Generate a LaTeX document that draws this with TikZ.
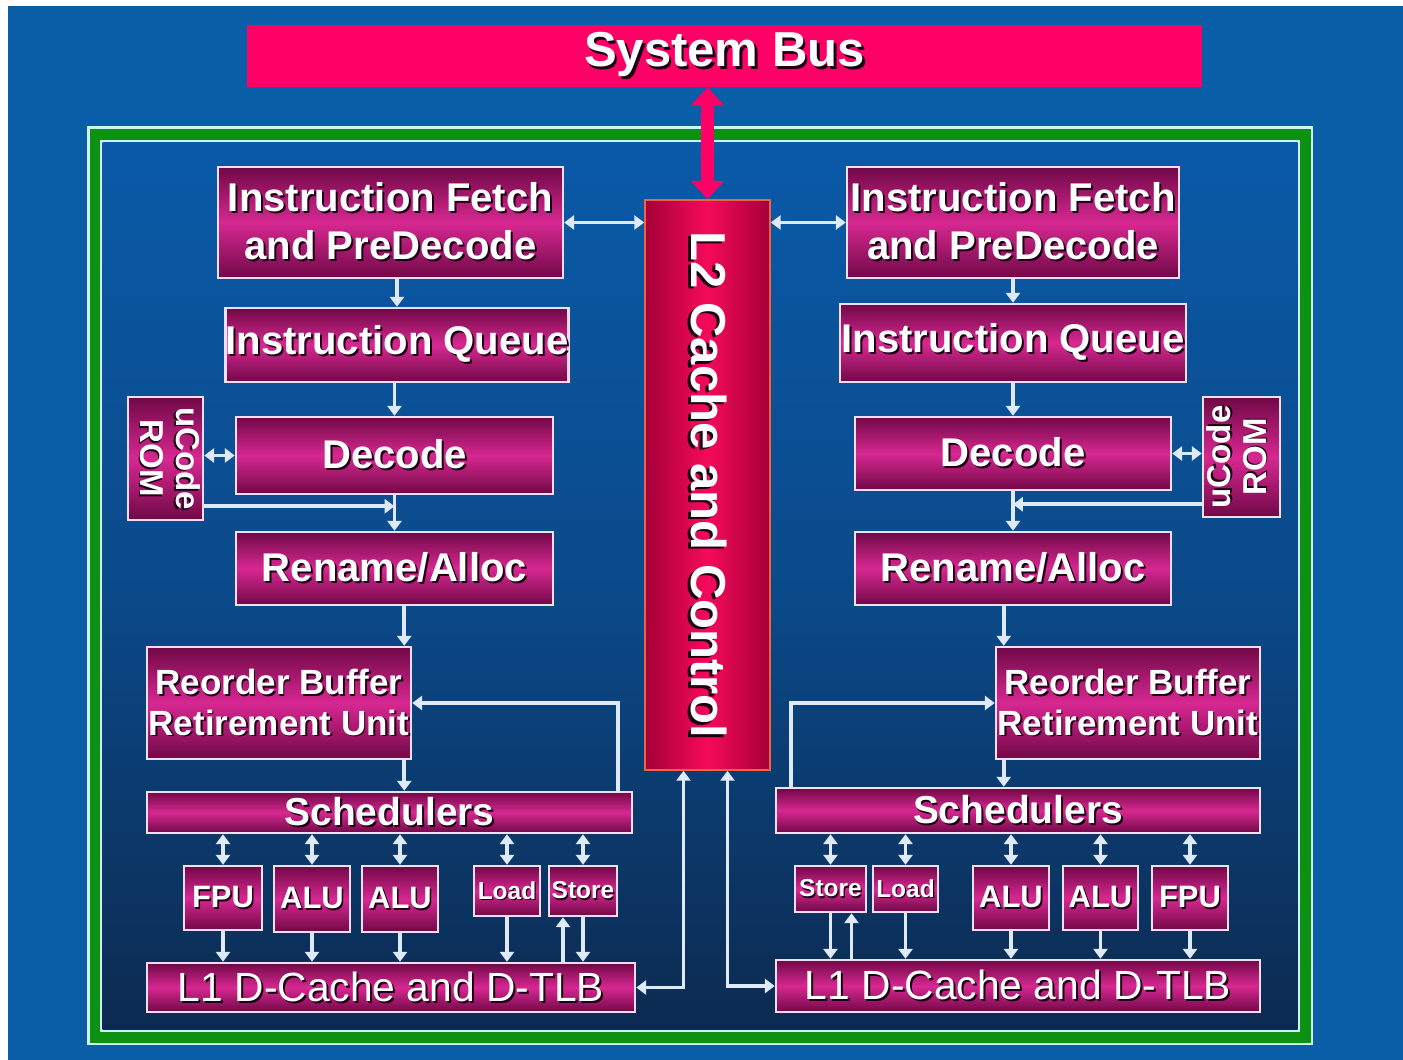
\documentclass[tikz,border=0pt]{standalone}
\usepackage{fontspec}
\setmainfont{Liberation Sans}
\usetikzlibrary{arrows.meta,calc}

\definecolor{bgblue}{RGB}{10,94,168}
\definecolor{intop}{RGB}{10,90,168}
\definecolor{inmid}{RGB}{11,74,138}
\definecolor{inbot}{RGB}{12,42,80}
\definecolor{framecyan}{RGB}{205,245,245}
\definecolor{framegreen}{RGB}{12,145,18}
\definecolor{busred}{RGB}{255,0,102}
\definecolor{mgdark}{RGB}{112,8,70}
\definecolor{mgbright}{RGB}{215,40,145}
\definecolor{ltwodark}{RGB}{165,0,55}
\definecolor{ltwobright}{RGB}{245,10,90}
\definecolor{ltwoline}{RGB}{235,100,70}
\definecolor{boxline}{RGB}{242,222,242}
\definecolor{arrowc}{RGB}{222,234,250}
\definecolor{shadowc}{RGB}{30,0,20}

% white text with a dark drop shadow
\newcommand\shd[1]{\rlap{\kern0.05em\raisebox{-0.05em}{\color{shadowc}#1}}#1}

\tikzset{
  sz/.style 2 args={minimum width=#1*0.025cm, minimum height=#2*0.025cm},
  unit node/.style={draw=boxline, line width=1.8pt, inner sep=0pt, text=white,
    top color=mgdark, bottom color=mgdark, middle color=mgbright,
    font=\bfseries\fontsize{28.5}{34}\selectfont, align=center},
  rob node/.style={unit node, font=\bfseries\fontsize{24.9}{29}\selectfont},
  sched node/.style={unit node, font=\bfseries\fontsize{27.7}{32}\selectfont},
  exec node/.style={unit node, font=\bfseries\fontsize{22}{26}\selectfont},
  mem node/.style={unit node, font=\bfseries\fontsize{17.4}{20}\selectfont},
  cache node/.style={unit node, font=\fontsize{29}{34}\selectfont},
  rom node/.style={unit node, font=\bfseries\fontsize{23.5}{25}\selectfont},
  ltwo node/.style={draw=ltwoline, line width=1.2pt, inner sep=0pt, text=white,
    left color=ltwodark, right color=ltwodark, middle color=ltwobright,
    font=\bfseries\fontsize{34.9}{40}\selectfont},
  bus node/.style={fill=busred, inner sep=0pt, text=white,
    font=\bfseries\fontsize{34.9}{40}\selectfont},
  link/.style={color=arrowc, line width=2.8pt, -{Triangle[width=10pt,length=7pt]}},
  both/.style={link, {Triangle[width=10pt,length=7pt]}-{Triangle[width=10pt,length=7pt]}},
  busarrow/.style={color=busred, line width=9.5pt,
    {Triangle[width=23pt,length=13pt]}-{Triangle[width=23pt,length=13pt]}}
}

\begin{document}
\begin{tikzpicture}[x=0.025cm, y=-0.025cm]

  % page and frame
  \useasboundingbox (0,0) rectangle (1403,1060);
  \fill[white] (0,0) rectangle (1403,1060);
  \fill[bgblue] (8,6) rectangle (1403,1060);
  \fill[framecyan] (87,126) rectangle (1313,1045);
  \fill[framegreen] (89.5,128.5) rectangle (1310.5,1042.5);
  \fill[framecyan] (100,140) rectangle (1300,1032);
  \shade[top color=intop, bottom color=inbot, middle color=inmid]
    (102.5,142.5) rectangle (1297.5,1029.5);

  \node[bus node, sz={955}{62}] (bus) at (724.5,56) {\shd{System Bus}};
  \node[ltwo node, sz={125}{570}] (l2) at (707.5,485)
    {\rotatebox{-90}{\shd{L2 Cache and Control}}};

  % left core
  \node[unit node, sz={345}{111}] (IFL) at (390.5,222.5) {\shd{Instruction Fetch}\\\shd{and PreDecode}};
  \node[unit node, sz={342}{74}] (IQL) at (397,345) {\shd{Instruction Queue}};
  \node[unit node, sz={317}{77}] (DecL) at (394.5,455.5) {\shd{Decode}};
  \node[rom node, sz={75}{123}] (ROML) at (165.5,458.5)
    {\rotatebox{-90}{\begin{tabular}{@{}c@{}}\shd{uCode}\\\shd{ROM}\end{tabular}}};
  \node[unit node, sz={317}{73}] (RenL) at (394.5,568.5) {\shd{Rename/Alloc}};
  \node[rob node, sz={264}{112}] (ROBL) at (279,703) {\shd{Reorder Buffer}\\\shd{Retirement Unit}};
  \node[sched node, sz={485}{41}] (SchL) at (389.5,812.5) {\shd{Schedulers}};
  \node[exec node, sz={78}{64}] (FPUL) at (223,898) {\shd{FPU}};
  \node[exec node, sz={76}{66}] (ALUaL) at (312,899) {\shd{ALU}};
  \node[exec node, sz={76}{66}] (ALUbL) at (400,899) {\shd{ALU}};
  \node[mem node, sz={66}{50}] (LoadL) at (507,891) {\shd{Load}};
  \node[mem node, sz={68}{50}] (StoreL) at (583,891) {\shd{Store}};
  \node[cache node, sz={488}{49}] (L1L) at (391,987.5) {\shd{L1 D-Cache and D-TLB}};

  % right core
  \node[unit node, sz={332}{111}] (IFR) at (1013,222.5) {\shd{Instruction Fetch}\\\shd{and PreDecode}};
  \node[unit node, sz={346}{78}] (IQR) at (1013,343) {\shd{Instruction Queue}};
  \node[unit node, sz={316}{73}] (DecR) at (1013,453.5) {\shd{Decode}};
  \node[rom node, sz={77}{120}] (ROMR) at (1241.5,457)
    {\rotatebox{90}{\begin{tabular}{@{}c@{}}\shd{uCode}\\\shd{ROM}\end{tabular}}};
  \node[unit node, sz={316}{73}] (RenR) at (1013,568.5) {\shd{Rename/Alloc}};
  \node[rob node, sz={264}{112}] (ROBR) at (1128,703) {\shd{Reorder Buffer}\\\shd{Retirement Unit}};
  \node[sched node, sz={484}{45}] (SchR) at (1018,810.5) {\shd{Schedulers}};
  \node[mem node, sz={71}{46}] (StoreR) at (830.5,889) {\shd{Store}};
  \node[mem node, sz={65}{46}] (LoadR) at (905.5,889) {\shd{Load}};
  \node[exec node, sz={76}{64}] (ALUaR) at (1011,898) {\shd{ALU}};
  \node[exec node, sz={75}{64}] (ALUbR) at (1100.5,898) {\shd{ALU}};
  \node[exec node, sz={76}{64}] (FPUR) at (1190,898) {\shd{FPU}};
  \node[cache node, sz={484}{52}] (L1R) at (1018,986) {\shd{L1 D-Cache and D-TLB}};

  \coordinate (robL) at ($(ROBL.north east)+(-8,0)$);
  \coordinate (robR) at ($(ROBR.north west)+(9,0)$);
  \coordinate (romL) at ($(ROML.south east)+(0,-15)$);
  \coordinate (romR) at ($(ROMR.south west)+(0,-14)$);
  \coordinate (stL) at ($(StoreL.south)+(-20,0)$);
  \coordinate (stR) at ($(StoreR.south)+(21,0)$);

  \draw[busarrow] (l2.north) -- (l2.north |- bus.south);

  \path[both]
    (IFL.east) edge (IFL.east -| l2.west)
    (IFR.west) edge (IFR.west -| l2.east)
    (DecL.west) edge (DecL.west -| ROML.east)
    (DecR.east) edge (DecR.east -| ROMR.west)
    (FPUL.north |- SchL.south) edge (FPUL.north)
    (ALUaL.north |- SchL.south) edge (ALUaL.north)
    (ALUbL.north |- SchL.south) edge (ALUbL.north)
    (LoadL.north |- SchL.south) edge (LoadL.north)
    (StoreL.north |- SchL.south) edge (StoreL.north)
    (StoreR.north |- SchR.south) edge (StoreR.north)
    (LoadR.north |- SchR.south) edge (LoadR.north)
    (ALUaR.north |- SchR.south) edge (ALUaR.north)
    (ALUbR.north |- SchR.south) edge (ALUbR.north)
    (FPUR.north |- SchR.south) edge (FPUR.north);

  \path[link]
    (IFL.south -| IQL.north) edge (IQL.north)
    (IQL.south -| DecL.north) edge (DecL.north)
    (DecL.south) edge (RenL.north)
    (RenL.south -| robL) edge (robL)
    (robL |- ROBL.south) edge (robL |- SchL.north)
    (IFR.south) edge (IQR.north)
    (IQR.south) edge (DecR.north)
    (DecR.south) edge (RenR.north)
    (RenR.south -| robR) edge (robR)
    (robR |- ROBR.south) edge (robR |- SchR.north)
    (romL) edge (romL -| DecL.south)
    (romR) edge (romR -| DecR.south)
    (FPUL.south) edge (FPUL.south |- L1L.north)
    (ALUaL.south) edge (ALUaL.south |- L1L.north)
    (ALUbL.south) edge (ALUbL.south |- L1L.north)
    (LoadL.south) edge (LoadL.south |- L1L.north)
    (StoreL.south) edge (StoreL.south |- L1L.north)
    (stL |- L1L.north) edge (stL)
    (StoreR.south) edge (StoreR.south |- L1R.north)
    (stR |- L1R.north) edge (stR)
    (LoadR.south) edge (LoadR.south |- L1R.north)
    (ALUaR.south) edge (ALUaR.south |- L1R.north)
    (ALUbR.south) edge (ALUbR.south |- L1R.north)
    (FPUR.south) edge (FPUR.south |- L1R.north);

  \draw[link] ($(SchL.north east)+(-15,0)$) |- (ROBL.east);
  \draw[link] ($(SchR.north west)+(16,0)$) |- (ROBR.west);
  \draw[both] (L1L.east) -| ($(l2.south)+(-24,0)$);
  \draw[both] (L1R.west) -| ($(l2.south)+(20,0)$);

\end{tikzpicture}
\end{document}
